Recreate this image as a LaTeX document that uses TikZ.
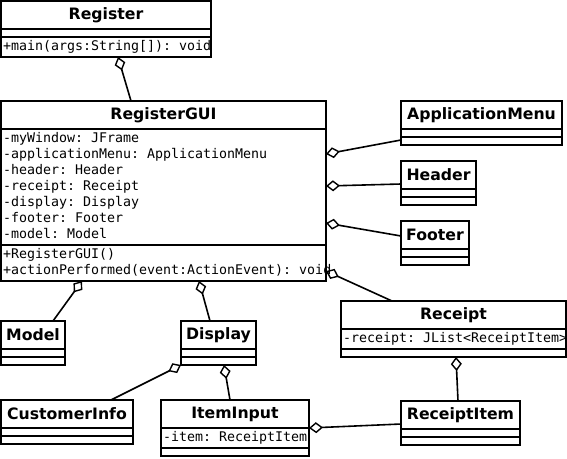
\documentclass[tikz,border=0pt]{standalone}
\usepackage{fontspec}
\newfontfamily\umlsans{DejaVu Sans}
\newfontfamily\umlmono{DejaVu Sans Mono}
\usetikzlibrary{arrows.meta}

\begin{document}
\begin{tikzpicture}[x=1pt,y=-1pt,line width=1.6pt,
                    class node/.style={draw,anchor=north west,outer sep=0pt,inner sep=0pt,
                            font=\umlsans\bfseries\fontsize{15.7}{18}\selectfont,
                            minimum width=#1,minimum height=28pt},
                    member node/.style={draw,anchor=north west,outer sep=0pt,
                            inner xsep=2pt,inner ysep=2pt,text width=#1,align=left,
                            font=\umlmono\fontsize{13.3}{16}\selectfont,
                            execute at begin node={\spaceskip=8pt\relax
                                \exhyphenpenalty=10000\hyphenpenalty=10000\strut},
                            execute at end node=\strut},
                    empty node/.style={draw,anchor=north west,outer sep=0pt,inner sep=0pt,
                            minimum width=#1,minimum height=8pt},
                    agg/.style={-{Diamond[open,length=14pt,width=11pt,line width=1.4pt]}}]

                \useasboundingbox (0,0) rectangle (567,458);

                % top
                \node[class node=210pt] (register) at (1,1) {Register};
                \node[empty node=210pt] (register attr) at (register.south west) {};
                \node[member node=206pt] (register ops) at (register attr.south west) {+main(args:String[]):~void};

                \node[class node=325pt] (gui) at (1,101) {RegisterGUI};
                \node[member node=321pt] (gui attr) at (gui.south west)
                    {-myWindow:~JFrame\\-applicationMenu:~ApplicationMenu\\-header:~Header\\-receipt:~Receipt\\-display:~Display\\-footer:~Footer\\-model:~Model};
                \node[member node=321pt] (gui ops) at (gui attr.south west)
                    {+RegisterGUI()\\+actionPerformed(event:ActionEvent):~void};

                % right column
                \node[class node=161pt] (app menu) at (401,101) {ApplicationMenu};
                \node[empty node=161pt] (app menu attr) at (app menu.south west) {};
                \node[empty node=161pt] (app menu ops) at (app menu attr.south west) {};

                \node[class node=75pt] (header) at (401,161) {Header};
                \node[empty node=75pt] (header attr) at (header.south west) {};
                \node[empty node=75pt] (header ops) at (header attr.south west) {};

                \node[class node=68pt] (footer) at (401,221) {Footer};
                \node[empty node=68pt] (footer attr) at (footer.south west) {};
                \node[empty node=68pt] (footer ops) at (footer attr.south west) {};

                \node[class node=225pt] (receipt) at (341,301) {Receipt};
                \node[member node=221pt] (receipt attr) at (receipt.south west) {-receipt:~JList<ReceiptItem>};
                \node[empty node=225pt] (receipt ops) at (receipt attr.south west) {};

                % bottom
                \node[class node=64pt] (model) at (1,321) {Model};
                \node[empty node=64pt] (model attr) at (model.south west) {};
                \node[empty node=64pt] (model ops) at (model attr.south west) {};

                \node[class node=75pt] (display) at (181,321) {Display};
                \node[empty node=75pt] (display attr) at (display.south west) {};
                \node[empty node=75pt] (display ops) at (display attr.south west) {};

                \node[class node=132pt] (customer) at (1,400) {CustomerInfo};
                \node[empty node=132pt] (customer attr) at (customer.south west) {};
                \node[empty node=132pt] (customer ops) at (customer attr.south west) {};

                \node[class node=148pt] (item input) at (161,400) {ItemInput};
                \node[member node=144pt] (item input attr) at (item input.south west) {-item:~ReceiptItem};
                \node[empty node=148pt] (item input ops) at (item input attr.south west) {};

                \node[class node=119pt] (receipt item) at (401,401) {ReceiptItem};
                \node[empty node=119pt] (receipt item attr) at (receipt item.south west) {};
                \node[empty node=119pt] (receipt item ops) at (receipt item attr.south west) {};

                \path[agg]
                ([xshift=130]gui.north west) edge ([xshift=117]register ops.south west)
                ([yshift=-3]app menu ops.north west) edge ([yshift=-25]gui attr.north east)
                ([yshift=5]header.south west) edge ([yshift=-57]gui attr.north east)
                ([yshift=-15]footer.north west) edge ([yshift=-94]gui attr.north east)
                ([xshift=51]receipt.north west) edge ([yshift=-26]gui ops.north east)
                ([xshift=52]model.north west) edge ([xshift=81]gui ops.south west)
                ([xshift=29]display.north west) edge ([xshift=198]gui ops.south west)
                ([xshift=110]customer.north west) edge (display ops.south west)
                ([xshift=69]item input.north west) edge ([xshift=43]display ops.south west)
                ([yshift=-23]receipt item.north west) edge (item input.south east)
                ([xshift=57]receipt item.north west) edge ([xshift=115]receipt ops.south west)
                ;
            \end{tikzpicture}
\end{document}
